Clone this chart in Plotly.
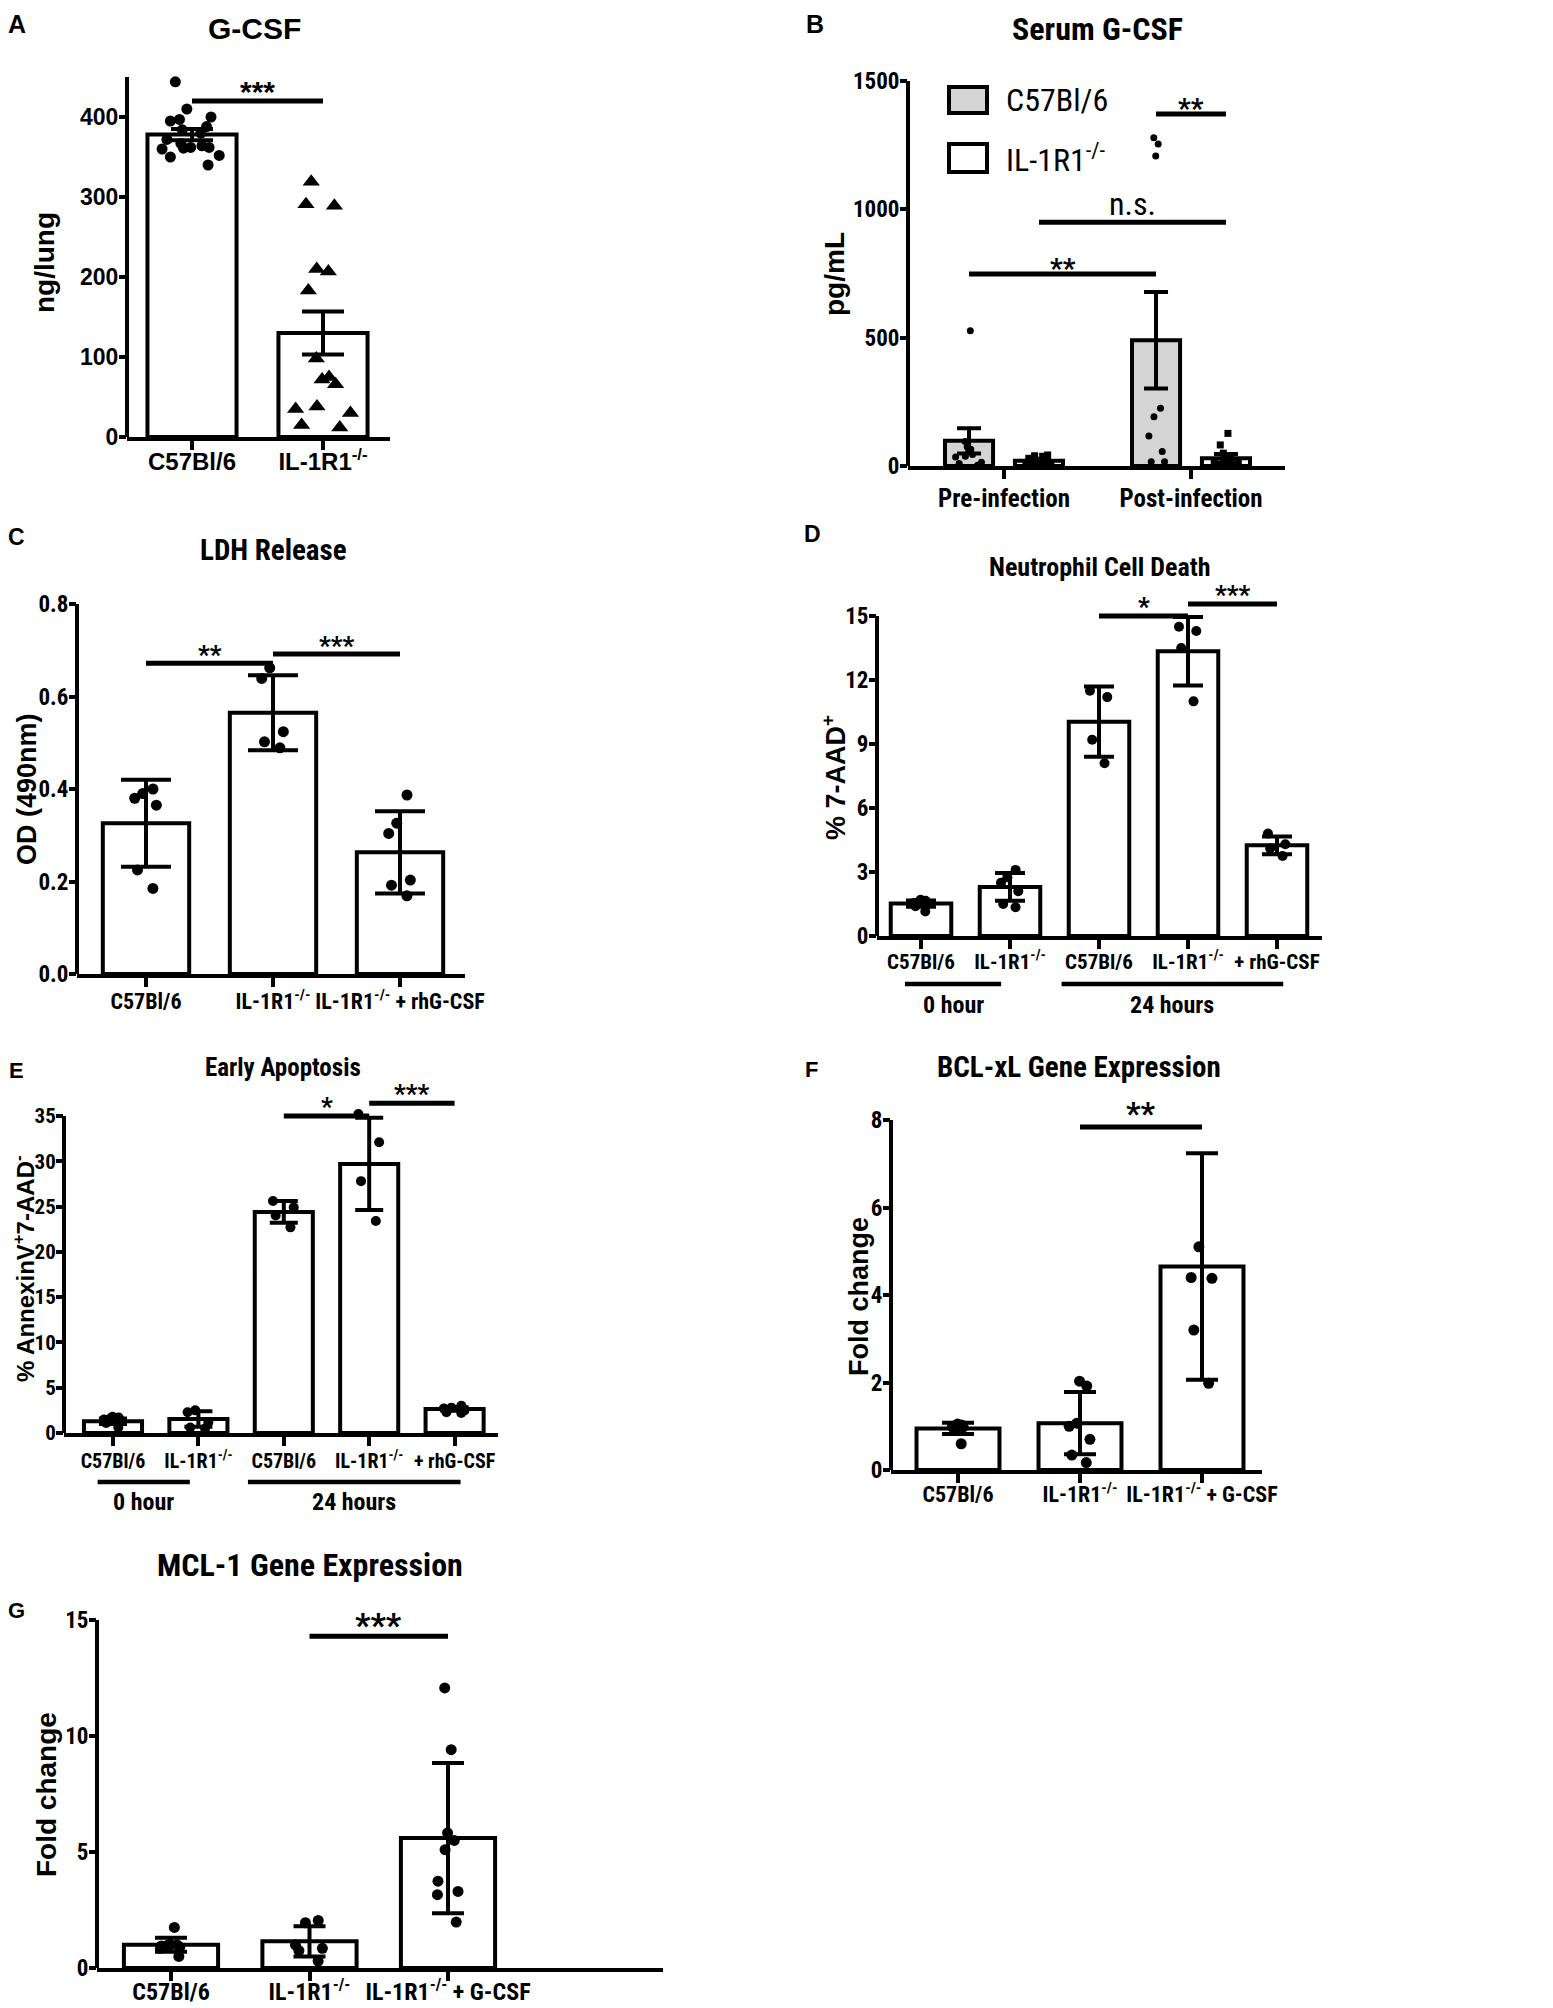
import plotly.graph_objects as go

# the page body adds an 8px margin, so the figure is laid out in page pixels minus that offset
PAGE_OFF = 8
W, H = 1553 - PAGE_OFF, 2008 - PAGE_OFF

# ---------------- data ----------------
# A - G-CSF in lung, mean +/- SEM
A_LABELS = ["C57Bl/6", "IL-1R1<sup>-/-</sup>"]
A_MEAN = [378, 130]
A_ERR = [7, 27]
A_PTS = [
    [444, 410, 400, 397, 395, 388, 384, 380, 372, 367, 364, 362, 362, 361, 360, 352, 350, 340],
    [319, 291, 289, 210, 207, 183, 98, 75, 72, 66, 38, 35, 30, 15, 12],
]
A_YTICKS = [0, 100, 200, 300, 400]
A_SIG = [(0, 1, 420, "***")]

# B - serum G-CSF, grouped by infection state
B_GROUPS = ["Pre-infection", "Post-infection"]
B_SERIES = ["C57Bl/6", "IL-1R1<sup>-/-</sup>"]
B_WT_MEAN = [98, 490]
B_WT_ERR = [49, 188]
B_KO_MEAN = [20, 30]
B_KO_ERR = [8, 17]
B_WT_PTS = [
    [527, 95, 75, 65, 60, 45, 38, 35, 15, 10, 3],
    [1279, 1254, 1208, 225, 192, 117, 56, 17, 17],
]
B_KO_PTS = [
    [43, 40, 38, 30, 28, 25, 20, 18, 15, 12, 10, 8, 5],
    [127, 82, 50, 35, 30, 25, 20, 15, 10, 8, 5],
]
B_YTICKS = [0, 500, 1000, 1500]
# bar order: pre WT, pre KO, post WT, post KO
B_SIG = [(0, 2, 748, "**"), (1, 3, 950, "n.s."), (2, 3, 1371, "**")]

# C - LDH release
C_LABELS = ["C57Bl/6", "IL-1R1<sup>-/-</sup>", "IL-1R1<sup>-/-</sup> + rhG-CSF"]
C_MEAN = [0.326, 0.565, 0.263]
C_ERR = [0.094, 0.081, 0.089]
C_PTS = [
    [0.39, 0.40, 0.38, 0.365, 0.225, 0.185],
    [0.662, 0.639, 0.524, 0.502, 0.489],
    [0.387, 0.326, 0.304, 0.203, 0.192, 0.169],
]
C_YTICKS = [0, 0.2, 0.4, 0.6, 0.8]
C_SIG = [(0, 1, 0.672, "**"), (1, 2, 0.692, "***")]

# D - neutrophil cell death
D_LABELS = ["C57Bl/6", "IL-1R1<sup>-/-</sup>", "C57Bl/6", "IL-1R1<sup>-/-</sup>", "+ rhG-CSF"]
D_MEAN = [1.52, 2.3, 10.05, 13.35, 4.25]
D_ERR = [0.15, 0.65, 1.65, 1.6, 0.42]
D_PTS = [
    [1.7, 1.65, 1.6, 1.55, 1.5, 1.4, 1.15],
    [3.1, 2.75, 2.5, 2.1, 1.5, 1.35],
    [11.5, 11.2, 9.2, 8.1],
    [14.5, 14.3, 13.5, 11.0],
    [4.8, 4.3, 4.1, 3.75],
]
D_YTICKS = [0, 3, 6, 9, 12, 15]
D_SIG = [(2, 3, 15.0, "*"), (3, 4, 15.56, "***")]
D_TIMES = [("0 hour", 0, 1), ("24 hours", 2, 4)]

# E - early apoptosis
E_LABELS = D_LABELS
E_MEAN = [1.3, 1.55, 24.4, 29.7, 2.65]
E_ERR = [0.3, 0.85, 1.2, 5.1, 0.2]
E_PTS = [
    [1.8, 1.7, 1.6, 1.5, 1.3, 1.1, 0.6],
    [2.5, 2.3, 1.2, 0.6, 0.5],
    [25.6, 24.9, 24.0, 22.7],
    [35.2, 32.1, 27.8, 23.4],
    [3.0, 2.8, 2.7, 2.5, 2.3, 2.2],
]
E_YTICKS = [0, 5, 10, 15, 20, 25, 30, 35]
E_SIG = [(2, 3, 35.0, "*"), (3, 4, 36.4, "***")]
E_TIMES = D_TIMES

# F - BCL-xL expression
F_LABELS = ["C57Bl/6", "IL-1R1<sup>-/-</sup>", "IL-1R1<sup>-/-</sup> + G-CSF"]
F_MEAN = [0.95, 1.07, 4.65]
F_ERR = [0.13, 0.71, 2.59]
F_PTS = [
    [1.05, 1.03, 1.0, 1.0, 0.98, 0.95, 0.6],
    [2.03, 1.92, 1.07, 1.0, 0.7, 0.34, 0.17],
    [5.1, 4.4, 4.38, 3.2, 1.98],
]
F_YTICKS = [0, 2, 4, 6, 8]
F_SIG = [(1, 2, 7.84, "**")]

# G - MCL-1 expression
G_LABELS = F_LABELS
G_MEAN = [1.0, 1.15, 5.6]
G_ERR = [0.3, 0.65, 3.24]
G_PTS = [
    [1.75, 1.0, 1.0, 1.0, 0.95, 0.9, 0.85, 0.5],
    [2.05, 1.95, 1.0, 0.85, 0.75, 0.3],
    [12.07, 9.41, 5.82, 5.5, 5.1, 3.74, 3.3, 3.16, 1.98],
]
G_YTICKS = [0, 5, 10, 15]
G_SIG = [(1, 2, 14.3, "***")]

# ---------------- layout / style ----------------
NARROW = "Liberation Sans Narrow, Arial Narrow, Roboto Condensed, sans-serif"
WIDE = "Liberation Sans, Arial, Helvetica, sans-serif"
GRAY = "#d4d4d4"

# positions below are page pixels
# x: (left px, right px, px of first category, px per category)
# y: (px of zero, px per unit, range top); spine = top of drawn y axis
GEOM = {
    "A": dict(x=(127, 390, 192, 131), y=(437, 0.8, 458), spine=450),
    "B": dict(x=(908, 1285, 1004, 187), y=(466, 0.2567, 1500), spine=1500),
    "C": dict(x=(77, 465, 146, 127), y=(974, 462.5, 0.8), spine=0.8),
    "D": dict(x=(877, 1322, 921, 89), y=(936, 21.33, 15.8), spine=15),
    "E": dict(x=(64, 498, 113, 85.4), y=(1433, 9.06, 36.8), spine=35),
    "F": dict(x=(891, 1262, 958, 122), y=(1470, 43.75, 8), spine=8),
    "G": dict(x=(97, 663, 171, 138.5), y=(1968, 23.2, 15), spine=15),
}
STYLE = {
    "A": dict(font=WIDE, xtick=24, ytick=23, xstand=-9, cap=21, msize=[11, 15], sym=["circle", "triangle-up"], jitter=0.9, star=30, gap=16),
    "B": dict(font=NARROW, xtick=25, ytick=23, xstand=-2, cap=12, msize=[7, 7], sym=["circle", "square"], jitter=0.8, star=28, gap=12),
    "C": dict(font=NARROW, xtick=22, ytick=23, xstand=-4, cap=25, msize=[11], sym=["circle"], jitter=0.35, star=26, gap=14),
    "D": dict(font=NARROW, xtick=21, ytick=23, xstand=-5, cap=15, msize=[10], sym=["circle"], jitter=0.4, star=26, gap=15),
    "E": dict(font=NARROW, xtick=20, ytick=21, xstand=-2, cap=14, msize=[10], sym=["circle"], jitter=0.5, star=26, gap=15),
    "F": dict(font=NARROW, xtick=22, ytick=23, xstand=-7, cap=16, msize=[11], sym=["circle"], jitter=0.35, star=32, gap=21),
    "G": dict(font=NARROW, xtick=24, ytick=23, xstand=-10, cap=16, msize=[11], sym=["circle"], jitter=0.4, star=34, gap=19),
}
BAR_W = 0.68
B_OFF, B_BAR_W = 0.187, 0.257
BRACKET_PADS = [(0.18, -0.10), (0.42, 0.07)]

fig = go.Figure()
shapes = []
annotations = []


def fx(px):
    return (px - PAGE_OFF) / W


def fy(py):
    return 1 - (py - PAGE_OFF) / H


def refs(n):
    s = "" if n == 1 else str(n)
    return "x" + s, "y" + s


def bold(family, size, weight="bold"):
    return dict(family=family, size=size, color="black", weight=weight)


def note(text, x, y, size, family=NARROW, weight="bold", xanchor="center", **kw):
    annotations.append(dict(text=text, x=fx(x), y=fy(y), xref="paper", yref="paper",
                            xanchor=xanchor, yanchor="middle", showarrow=False,
                            font=bold(family, size, weight), **kw))


def axes(n, key, xvals, xlabels, yticks, yfmt=None):
    g, st = GEOM[key], STYLE[key]
    left, right, c0, unit = g["x"]
    zero, scale, top = g["y"]
    xr, yr = refs(n)
    common = dict(showgrid=False, zeroline=False, ticks="outside", tickcolor="black",
                  tickwidth=3.5, fixedrange=True, automargin=False)
    fig.update_layout({
        "xaxis" + xr[1:]: dict(common, domain=[fx(left), fx(right)],
                               range=[(left - c0) / unit, (right - c0) / unit], anchor=yr,
                               tickvals=xvals, ticktext=xlabels, tickangle=0, ticklen=9,
                               showline=True, linewidth=4, linecolor="black",
                               ticklabelstandoff=st["xstand"],
                               tickfont=bold(st["font"], st["xtick"])),
        "yaxis" + yr[1:]: dict(common, domain=[fy(zero), fy(zero - top * scale)],
                               range=[0, top], anchor=xr, tickvals=yticks, tickformat=yfmt,
                               ticklen=7, ticklabelstandoff=-4, showline=False,
                               tickfont=bold(st["font"], st["ytick"])),
    })
    shapes.append(dict(type="line", xref=xr + " domain", yref=yr, x0=0, x1=0, y0=0, y1=g["spine"],
                       line=dict(color="black", width=4)))


def bars(n, key, x, means, err, width, fill="white"):
    xr, yr = refs(n)
    fig.add_trace(go.Bar(
        x=x, y=means, width=width, xaxis=xr, yaxis=yr, showlegend=False, hoverinfo="skip",
        marker=dict(color=fill, line=dict(color="black", width=4)),
        error_y=dict(type="data", array=err, color="black", thickness=4, width=STYLE[key]["cap"]),
    ))


def points(n, key, pos, vals, k=0, width=0.6):
    xr, yr = refs(n)
    st = STYLE[key]
    fig.add_trace(go.Box(
        x=[pos] * len(vals), y=vals, xaxis=xr, yaxis=yr, boxpoints="all", jitter=st["jitter"],
        pointpos=0, width=width, fillcolor="rgba(0,0,0,0)", showlegend=False, hoverinfo="skip",
        line=dict(color="rgba(0,0,0,0)", width=0), whiskerwidth=0,
        marker=dict(color="black", size=st["msize"][k], symbol=st["sym"][k], line=dict(width=0)),
    ))


def sig(n, key, x0, x1, y, text):
    xr, yr = refs(n)
    st = STYLE[key]
    shapes.append(dict(type="line", xref=xr, yref=yr, x0=x0, x1=x1, y0=y, y1=y,
                       line=dict(color="black", width=5)))
    if text == "n.s.":
        size, lift, weight = 32, st["gap"] + 3 + 0.087 * 32, "normal"
    else:
        size, lift, weight = st["star"], st["gap"] - 0.233 * st["star"], "bold"
    annotations.append(dict(text=text, x=(x0 + x1) / 2, y=y, xref=xr, yref=yr, showarrow=False,
                            xanchor="center", yanchor="middle", yshift=lift,
                            font=bold(st["font"], size, weight)))


def simple_panel(n, key, labels, means, err, pts, yticks, sigs, yfmt=None):
    pos = list(range(len(labels)))
    axes(n, key, pos, labels, yticks, yfmt)
    bars(n, key, pos, means, err, BAR_W)
    multi = len(STYLE[key]["sym"]) > 1
    for p, vals in zip(pos, pts):
        points(n, key, p, vals, k=p if multi else 0)
    for i, j, y, text in sigs:
        sig(n, key, pos[i], pos[j], y, text)


def time_brackets(n, groups, line_y, text_y):
    xr, _ = refs(n)
    for (label, first, last), (lp, rp) in zip(groups, BRACKET_PADS):
        x0, x1 = first - lp, last + rp
        shapes.append(dict(type="line", xref=xr, yref="paper", x0=x0, x1=x1,
                           y0=fy(line_y), y1=fy(line_y), line=dict(color="black", width=4.5)))
        annotations.append(dict(text=label, x=(x0 + x1) / 2, y=fy(text_y), xref=xr, yref="paper",
                                xanchor="center", yanchor="middle", showarrow=False,
                                font=bold(NARROW, 24)))


# A
simple_panel(1, "A", A_LABELS, A_MEAN, A_ERR, A_PTS, A_YTICKS, A_SIG)

# B (grouped)
grp = list(range(len(B_GROUPS)))
axes(2, "B", grp, B_GROUPS, B_YTICKS)
wt_x = [g - B_OFF for g in grp]
ko_x = [g + B_OFF for g in grp]
bars(2, "B", wt_x, B_WT_MEAN, B_WT_ERR, B_BAR_W, fill=GRAY)
bars(2, "B", ko_x, B_KO_MEAN, B_KO_ERR, B_BAR_W)
for x, vals in zip(wt_x, B_WT_PTS):
    points(2, "B", x, vals, k=0, width=0.22)
for x, vals in zip(ko_x, B_KO_PTS):
    points(2, "B", x, vals, k=1, width=0.22)
b_pos = [wt_x[0], ko_x[0], wt_x[1], ko_x[1]]
for i, j, y, text in B_SIG:
    sig(2, "B", b_pos[i], b_pos[j], y, text)
# legend boxes
for (y0, y1, fill), (name, ty) in zip([(87, 113, GRAY), (144, 172, "white")], zip(B_SERIES, [100, 158])):
    shapes.append(dict(type="rect", xref="paper", yref="paper", x0=fx(949), x1=fx(987),
                       y0=fy(y1), y1=fy(y0), fillcolor=fill, line=dict(color="black", width=4)))
    note(name, 1004, ty, 32, weight="normal", xanchor="left")

# C
simple_panel(3, "C", C_LABELS, C_MEAN, C_ERR, C_PTS, C_YTICKS, C_SIG, yfmt=".1f")
# D
simple_panel(4, "D", D_LABELS, D_MEAN, D_ERR, D_PTS, D_YTICKS, D_SIG)
time_brackets(4, D_TIMES, 984, 1005)
# E
simple_panel(5, "E", E_LABELS, E_MEAN, E_ERR, E_PTS, E_YTICKS, E_SIG)
time_brackets(5, E_TIMES, 1482, 1502)
# F
simple_panel(6, "F", F_LABELS, F_MEAN, F_ERR, F_PTS, F_YTICKS, F_SIG)
# G
simple_panel(7, "G", G_LABELS, G_MEAN, G_ERR, G_PTS, G_YTICKS, G_SIG)

# titles
for text, x, y, size, fam in [
    ("G-CSF", 254, 28, 30, WIDE),
    ("Serum G-CSF", 1097, 29, 32, NARROW),
    ("LDH Release", 273, 550, 29, NARROW),
    ("Neutrophil Cell Death", 1099, 567, 26, NARROW),
    ("Early Apoptosis", 283, 1067, 25, NARROW),
    ("BCL-xL Gene Expression", 1079, 1067, 29, NARROW),
    ("MCL-1 Gene Expression", 310, 1565, 32, NARROW),
]:
    note(text, x, y, size, fam)

# y axis titles
for text, x, y, size in [
    ("ng/lung", 45, 263, 28),
    ("pg/mL", 834, 274, 28),
    ("OD (490nm)", 27, 789, 27),
    ("% 7-AAD<sup>+</sup>", 834, 778, 27),
    ("% AnnexinV<sup>+</sup>7-AAD<sup>-</sup>", 24, 1269, 24),
    ("Fold change", 859, 1297, 27),
    ("Fold change", 46, 1795, 28),
]:
    note(text, x, y, size, WIDE, textangle=-90)

# panel letters (kept inside the drawable page area)
for text, x, y, size in [("A", 17, 24, 25), ("B", 815, 24, 25), ("C", 16, 537, 23), ("D", 812, 534, 23),
                         ("E", 16, 1070, 22), ("F", 811, 1069, 22), ("G", 16, 1610, 22)]:
    note(text, x, y, size, WIDE)

fig.update_layout(
    width=W, height=H, margin=dict(l=0, r=0, t=0, b=0, pad=0, autoexpand=False),
    paper_bgcolor="white", plot_bgcolor="white",
    barmode="overlay", boxmode="overlay", hovermode=False,
    font=dict(family=NARROW, color="black"),
    shapes=shapes, annotations=annotations,
)

fig.write_html("out.html")
